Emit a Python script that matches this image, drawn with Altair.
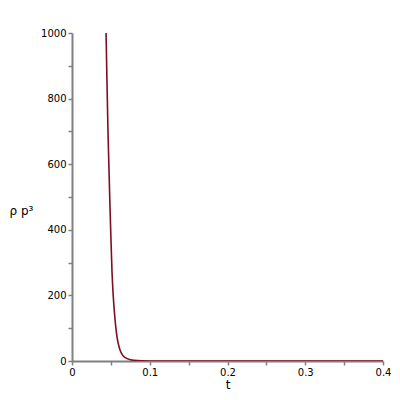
import altair as alt
import pandas as pd

# values
t_vals = [0.0438, 0.0450, 0.0463, 0.0475, 0.0484, 0.0500, 0.0515, 0.0530, 0.0545,
          0.0560, 0.0580, 0.0600, 0.0620, 0.0650, 0.0685, 0.0750, 0.0800, 0.0900,
          0.1000, 0.1200, 0.1500, 0.2000, 0.3000, 0.4000]
rho_vals = [1000, 850, 700, 590, 510, 380, 270, 200, 150,
            110, 72, 48, 32, 18, 10, 4, 2, 0.5,
            0.15, 0.02, 0, 0, 0, 0]

x_ticks = [0, 0.05, 0.1, 0.15, 0.2, 0.25, 0.3, 0.35, 0.4]
y_ticks = [0, 100, 200, 300, 400, 500, 600, 700, 800, 900, 1000]

df = pd.DataFrame({"t": t_vals, "rho": rho_vals})

axis_common = dict(
    domainColor="#808080", domainWidth=2, tickColor="#808080", tickWidth=1.5,
    tickSize=4, grid=False, labelFont="DejaVu Sans", labelFontSize=10,
    labelColor="#000000", titleFont="DejaVu Sans", titleFontWeight="normal",
    titleColor="#000000", titleFontSize=12, labelFlush=False, labelOverlap=False,
)

chart = alt.Chart(df).mark_line(color="#7b1022", strokeWidth=1.6, clip=True, interpolate="monotone").encode(
    x=alt.X("t:Q", scale=alt.Scale(domain=[0, 0.4], nice=False, zero=False),
            axis=alt.Axis(title="t", values=x_ticks,
                          labelExpr="(round(datum.value*100) % 10 == 0) ? format(datum.value, '~g') : ''",
                          titlePadding=2, **axis_common)),
    y=alt.Y("rho:Q", scale=alt.Scale(domain=[0, 1000], nice=False),
            axis=alt.Axis(title="ρ p³", values=y_ticks,
                          labelExpr="(datum.value % 200 == 0) ? datum.label : ''",
                          format="d", titleAngle=0, titleAlign="left", titleBaseline="middle",
                          titleX=-63, titleY=177, **axis_common)),
).properties(
    width=311, height=328,
    autosize=alt.AutoSizeParams(type="none"),
    padding={"left": 64, "top": 25, "right": 9, "bottom": 30},
).configure(background="white").configure_view(stroke=None)

chart.save("out.html", embed_options={"renderer": "svg", "actions": False})
